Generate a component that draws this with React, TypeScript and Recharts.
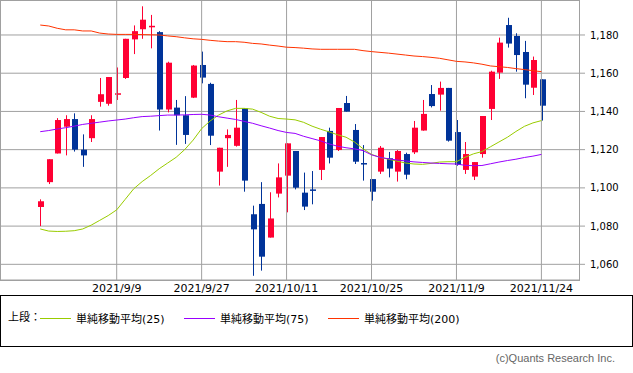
import React from "react";
import {
    ComposedChart,
    Bar,
    Line,
    XAxis,
    YAxis,
    CartesianGrid,
    ReferenceLine
} from "recharts";

// trading days, 2021/8/27 .. 2021/11/24
const dates = [
    "2021/8/27", "2021/8/30", "2021/8/31", "2021/9/1", "2021/9/2", "2021/9/3", "2021/9/6", "2021/9/7", "2021/9/8", "2021/9/9",
    "2021/9/10", "2021/9/13", "2021/9/14", "2021/9/15", "2021/9/16", "2021/9/17", "2021/9/21", "2021/9/22", "2021/9/24", "2021/9/27",
    "2021/9/28", "2021/9/29", "2021/9/30", "2021/10/1", "2021/10/4", "2021/10/5", "2021/10/6", "2021/10/7", "2021/10/8", "2021/10/11",
    "2021/10/12", "2021/10/13", "2021/10/14", "2021/10/15", "2021/10/18", "2021/10/19", "2021/10/20", "2021/10/21", "2021/10/22", "2021/10/25",
    "2021/10/26", "2021/10/27", "2021/10/28", "2021/10/29", "2021/11/1", "2021/11/2", "2021/11/4", "2021/11/5", "2021/11/8", "2021/11/9",
    "2021/11/10", "2021/11/11", "2021/11/12", "2021/11/15", "2021/11/16", "2021/11/17", "2021/11/18", "2021/11/19", "2021/11/22", "2021/11/24"
];

const opens = [
    1090, 1103, 1118, 1132, 1136, 1120, 1126, 1145, 1144, 1149,
    1157.5, 1177.7, 1183, 1184.3, 1181.5, 1141, 1142, 1138, 1147.2, 1164.3,
    1154.4, 1108.5, 1126, 1122, 1141.6, 1086.2, 1091.6, 1074, 1097, 1106.4,
    1119.3, 1097.5, 1099.2, 1109.4, 1129.8, 1119.8, 1144.4, 1130.3, 1113, 1104.6,
    1108.5, 1115.5, 1108.5, 1117.7, 1118.6, 1130, 1149.1, 1148.8, 1152.3, 1129.2,
    1109.4, 1105.9, 1117.7, 1141.3, 1160.3, 1185.2, 1179.5, 1171.1, 1152.4, 1156.8
];
const highs = [
    1094, 1115, 1136.5, 1138, 1139, 1128, 1138, 1157.5, 1158, 1163,
    1178, 1185, 1195, 1190.5, 1182, 1166, 1146, 1148, 1164.3, 1171.3,
    1155, 1121, 1130.6, 1146, 1141.6, 1090.7, 1103, 1097.7, 1112.8, 1123.3,
    1119.3, 1108, 1108.8, 1126.6, 1131.5, 1141.8, 1148.1, 1133.4, 1122.4, 1104.6,
    1121.9, 1118.8, 1119.8, 1118.4, 1135, 1146, 1153.8, 1155.6, 1152.3, 1135.5,
    1124, 1113.5, 1137.6, 1161.3, 1178.6, 1189, 1180.9, 1176.9, 1168.7, 1156.8
];
const lows = [
    1080, 1102, 1118, 1117, 1119, 1111, 1124, 1142.5, 1143, 1146,
    1157, 1170, 1178, 1173, 1130, 1139.5, 1122.5, 1123, 1147, 1154.7,
    1122.4, 1101.2, 1111, 1121.6, 1098, 1054, 1056.7, 1074, 1095, 1087.2,
    1099.2, 1088.4, 1091.4, 1104.1, 1112.8, 1119.3, 1139.9, 1112.5, 1103.8, 1093.3,
    1107.3, 1105.5, 1103.3, 1104.5, 1117.7, 1129.9, 1142.1, 1140.4, 1124.2, 1111.6,
    1107.3, 1104.1, 1115.8, 1135.5, 1157, 1173.4, 1160.8, 1146.9, 1148.6, 1135.2
];
const closes = [
    1093, 1115, 1135.5, 1136, 1120, 1117, 1136, 1149, 1158, 1149.5,
    1178, 1182, 1188, 1184.8, 1141, 1165.5, 1138, 1127.7, 1164, 1157.7,
    1127.3, 1121, 1127.7, 1131.5, 1103.8, 1078.3, 1064, 1084, 1105.5, 1123.3,
    1100.1, 1090.2, 1098.7, 1126.6, 1115.8, 1141.8, 1139.9, 1113.7, 1112.3, 1098,
    1121, 1110.1, 1119.3, 1106.9, 1131.5, 1138.7, 1142.8, 1152.3, 1124.7, 1112,
    1117.7, 1113.5, 1137.6, 1160.8, 1176, 1175.5, 1169.5, 1154, 1166.9, 1143
];

const ma25 = [
    1078.5, 1077.4, 1077.2, 1077.3, 1077.6, 1078.5, 1080.5, 1083, 1085.5, 1088.5,
    1094, 1099.5, 1103.3, 1106.5, 1110, 1113, 1116, 1120, 1125, 1131,
    1135, 1138.1, 1140.3, 1141.6, 1141.6, 1141.2, 1139.5, 1137.5, 1136.3, 1136,
    1135.6, 1134.3, 1132.3, 1130.7, 1129.3, 1127.8, 1126.5, 1124, 1120.5, 1117.5,
    1116, 1115, 1114, 1113, 1112.5, 1112.3, 1112.8, 1113.5, 1113.7, 1113.7,
    1116, 1117.8, 1119, 1121.5, 1124, 1126.5, 1129.5, 1132.2, 1134, 1135.2
];
const ma75 = [
    1129.4, 1130, 1130.8, 1131.5, 1132.3, 1133.2, 1133.8, 1134.4, 1135, 1135.5,
    1136, 1136.7, 1137.3, 1137.5, 1137.8, 1138.1, 1138.1, 1138.2, 1138.4, 1138.5,
    1138.1, 1137.2, 1136.5, 1135.8, 1134.8, 1133.8, 1132.5, 1131.3, 1130, 1129,
    1128.5, 1127, 1125.8, 1124.6, 1123, 1121.8, 1121, 1120.4, 1119.5, 1117.3,
    1116, 1115.2, 1114.6, 1114.1, 1113.6, 1113.3, 1113, 1112.8, 1112.6, 1112.5,
    1111.8, 1111.6, 1111.7, 1112.6, 1113.5, 1114.3, 1115, 1115.9, 1116.6, 1117.5
];
const ma200 = [
    1185.2, 1184.7, 1183.5, 1182.7, 1182.7, 1182.1, 1182.1, 1181, 1180.5, 1180.3,
    1180.3, 1180.3, 1180.2, 1180.1, 1180, 1179.5, 1179.1, 1178.5, 1178, 1177.7,
    1177.2, 1176.8, 1176.5, 1176.5, 1176.2, 1175.6, 1175.3, 1174.7, 1174.2, 1173.6,
    1173.4, 1173.1, 1172.7, 1172.5, 1172.5, 1172.5, 1172.5, 1172.5, 1171.8, 1171.3,
    1170.9, 1170.5, 1170, 1169.5, 1169, 1168.7, 1168.3, 1167.8, 1167, 1166.2,
    1165.9, 1165.4, 1164.7, 1163.8, 1163.4, 1163, 1162.4, 1161.9, 1161.3, 1160.8
];

const dateLabels = ["2021/9/9", "2021/9/27", "2021/10/11", "2021/10/25", "2021/11/9", "2021/11/24"];
const yTicks = [1060, 1080, 1100, 1120, 1140, 1160, 1180];

const legendItems = [
    { name: "単純移動平均(25)", color: "#99cc00" },
    { name: "単純移動平均(75)", color: "#9900ff" },
    { name: "単純移動平均(200)", color: "#ff3300" }
];

const UP = "#ff0033";
const DOWN = "#003399";
const GRID = "#a0a0a0";
const FONT = '"DejaVu Sans", "Noto Sans CJK JP", sans-serif';

const Candle = (props: any) => {
    const { x, y, width, height, payload } = props;
    if (x == null || y == null) return null;
    const top = Math.min(y, y + height);
    const h = Math.abs(height);
    const range = payload.high - payload.low;
    const k = range > 0 ? h / range : 0;
    const yOf = (v: number) => top + (payload.high - v) * k;
    const c = Math.round(x + width / 2);
    const up = payload.close >= payload.open;
    const color = up ? UP : DOWN;
    const bTop = yOf(Math.max(payload.open, payload.close));
    const bBot = yOf(Math.min(payload.open, payload.close));
    return (
        <g>
            <line x1={c + 0.5} x2={c + 0.5} y1={top} y2={top + h} stroke={color} strokeWidth={1} />
            <rect x={c - 2} y={bTop} width={6} height={Math.max(bBot - bTop, 1.5)} fill={color} />
        </g>
    );
};

const DateTick = (props: any) => {
    const { x, y, payload } = props;
    if (!dateLabels.includes(payload.value)) return <g />;
    return (
        <text x={x} y={y} dy="0.71em" textAnchor="middle" fontSize={11} fill="#000" fontFamily={FONT}>
            {payload.value}
        </text>
    );
};

export default function App() {
    const data = dates.map((date, i) => ({
        date,
        open: opens[i],
        high: highs[i],
        low: lows[i],
        close: closes[i],
        ma25: ma25[i],
        ma75: ma75[i],
        ma200: ma200[i]
    }));

    return (
        <div style={{ position: "absolute", left: 0, top: 0, width: 633, height: 373, background: "#fff", fontFamily: FONT }}>
            <ComposedChart width={633} height={300} data={data} margin={{ top: 0, right: 0, bottom: 0, left: 0 }}>
                <CartesianGrid vertical={false} stroke={GRID} />
                {dateLabels.map(d => (
                    <ReferenceLine key={d} x={d} stroke={GRID} />
                ))}
                <XAxis
                    dataKey="date"
                    height={20}
                    interval={0}
                    tickLine={false}
                    axisLine={false}
                    tickSize={2}
                    tickMargin={2}
                    padding={{ left: 36, right: 33.35 }}
                    tick={(p: any) => <DateTick {...p} />}
                />
                <YAxis
                    orientation="right"
                    width={54}
                    domain={[1051.8, 1198.3]}
                    allowDataOverflow
                    ticks={yTicks}
                    interval={0}
                    axisLine={false}
                    tickLine={{ stroke: GRID }}
                    tickSize={6}
                    tickMargin={5}
                    tickFormatter={(v: number) => v.toLocaleString("en-US")}
                    tick={{ fontSize: 10, fill: "#000", fontFamily: FONT }}
                />
                <Bar dataKey={(d: any) => [d.low, d.high]} shape={Candle} isAnimationActive={false} />
                <Line type="linear" dataKey="ma25" stroke="#99cc00" strokeWidth={1} dot={false} activeDot={false} isAnimationActive={false} />
                <Line type="linear" dataKey="ma75" stroke="#9900ff" strokeWidth={1} dot={false} activeDot={false} isAnimationActive={false} />
                <Line type="linear" dataKey="ma200" stroke="#ff3300" strokeWidth={1} dot={false} activeDot={false} isAnimationActive={false} />
            </ComposedChart>

            {/* plot frame */}
            <div style={{ position: "absolute", left: 0, top: 0, width: 580, height: 281, boxSizing: "border-box", border: `1px solid ${GRID}`, pointerEvents: "none" }} />

            {/* legend box */}
            <div style={{ position: "absolute", left: 0, top: 295, width: 633, height: 52, boxSizing: "border-box", border: "1px solid #000" }} />
            <div style={{ position: "absolute", left: 8, top: 310, fontSize: 11, lineHeight: "16px", color: "#000" }}>上段：</div>
            {legendItems.map((item, i) => (
                <div key={item.name} style={{ position: "absolute", left: 40 + i * 144, top: 310, height: 16, display: "flex", alignItems: "center", fontSize: 11, color: "#000" }}>
                    <span style={{ display: "inline-block", width: 31, height: 1, background: item.color, marginRight: 5 }} />
                    <span>{item.name}</span>
                </div>
            ))}

            <div style={{ position: "absolute", right: 18, top: 350, fontSize: 11, lineHeight: "16px", color: "#666", fontFamily: '"Liberation Sans", Arial, sans-serif' }}>
                (c)Quants Research Inc.
            </div>
        </div>
    );
}
